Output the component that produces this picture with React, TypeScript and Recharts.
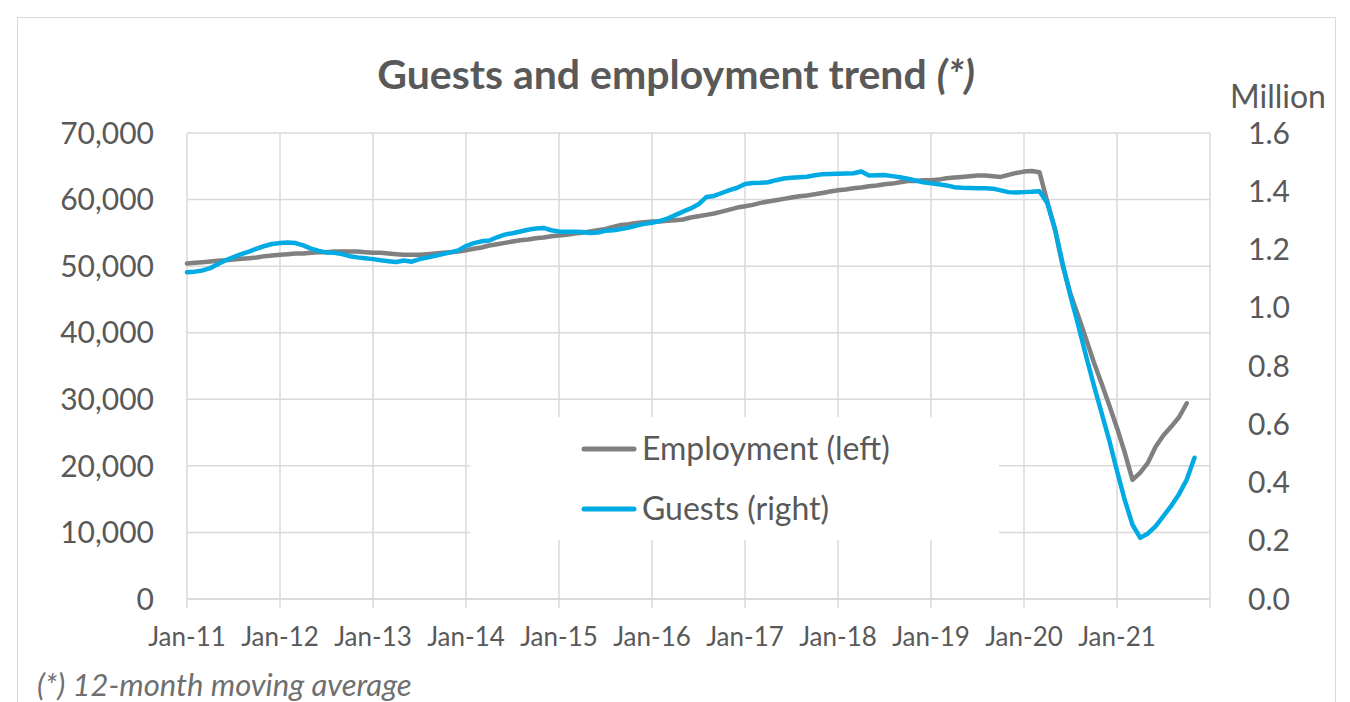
import React from "react";
import {
  ComposedChart,
  Line,
  XAxis,
  YAxis,
  CartesianGrid,
  Legend,
} from "recharts";

// months counted from Jan-11 (0) ; one row per year
const employment = [
  50400, 50500, 50600, 50700, 50800, 50900, 51000, 51100, 51200, 51300, 51500, 51600, // 2011
  51700, 51800, 51900, 51900, 52000, 52100, 52100, 52200, 52200, 52200, 52200, 52100, // 2012
  52000, 52000, 51900, 51800, 51700, 51700, 51700, 51800, 51900, 52000, 52100, 52200, // 2013
  52400, 52600, 52800, 53100, 53300, 53500, 53700, 53900, 54000, 54200, 54300, 54500, // 2014
  54600, 54700, 54900, 55000, 55200, 55400, 55600, 55900, 56200, 56300, 56500, 56600, // 2015
  56700, 56700, 56800, 56900, 57000, 57300, 57500, 57700, 57900, 58200, 58500, 58800, // 2016
  59000, 59200, 59500, 59700, 59900, 60100, 60300, 60500, 60600, 60800, 61000, 61200, // 2017
  61400, 61500, 61700, 61800, 62000, 62100, 62300, 62400, 62600, 62800, 62800, 62900, // 2018
  62900, 63000, 63200, 63300, 63400, 63500, 63600, 63600, 63500, 63400, 63700, 64000, // 2019
  64200, 64300, 64100, 59700, 55500, 50000, 45800, 42500, 39100, 35600, 32400, 29100, // 2020
  25700, 22000, 17900, 19000, 20500, 22900, 24600, 25900, 27300, 29400, // 2021
];

// million guests
const guests = [
  1.122, 1.124, 1.128, 1.136, 1.15, 1.163, 1.174, 1.184, 1.193, 1.203, 1.212, 1.219, // 2011
  1.222, 1.224, 1.222, 1.214, 1.203, 1.195, 1.19, 1.189, 1.184, 1.177, 1.173, 1.17, // 2012
  1.167, 1.163, 1.16, 1.157, 1.162, 1.158, 1.167, 1.172, 1.178, 1.184, 1.19, 1.197, // 2013
  1.212, 1.222, 1.228, 1.231, 1.242, 1.251, 1.256, 1.262, 1.268, 1.272, 1.274, 1.266, // 2014
  1.262, 1.261, 1.261, 1.26, 1.257, 1.258, 1.264, 1.266, 1.27, 1.275, 1.282, 1.288, // 2015
  1.292, 1.298, 1.306, 1.318, 1.33, 1.341, 1.355, 1.38, 1.384, 1.394, 1.404, 1.412, // 2016
  1.425, 1.428, 1.429, 1.431, 1.438, 1.444, 1.446, 1.448, 1.45, 1.455, 1.458, 1.459, // 2017
  1.46, 1.461, 1.462, 1.468, 1.454, 1.455, 1.456, 1.452, 1.448, 1.443, 1.437, 1.431, // 2018
  1.427, 1.424, 1.42, 1.414, 1.412, 1.411, 1.41, 1.41, 1.409, 1.403, 1.397, 1.396, // 2019
  1.397, 1.398, 1.4, 1.36, 1.27, 1.15, 1.04, 0.94, 0.835, 0.735, 0.64, 0.545, // 2020
  0.44, 0.34, 0.255, 0.21, 0.225, 0.25, 0.285, 0.32, 0.36, 0.41, 0.485, // 2021
];

const yearLabels = ["Jan-11", "Jan-12", "Jan-13", "Jan-14", "Jan-15", "Jan-16", "Jan-17", "Jan-18", "Jan-19", "Jan-20", "Jan-21", ""];
const leftTicks = [0, 10000, 20000, 30000, 40000, 50000, 60000, 70000];
const rightTicks = [0, 0.2, 0.4, 0.6, 0.8, 1.0, 1.2, 1.4, 1.6];

const data = guests.map((g, i) => ({
  m: i,
  employment: employment[i],
  guests: g,
}));

const xTicks = yearLabels.map((_, i) => i * 12);

const TEXT = "#595959";
const GRID = "#d9d9d9";
const FONT = "Lato, 'Open Sans', sans-serif";

function LegendBox({ payload }: any) {
  const items = payload || [];
  return (
    <svg width={529} height={123} style={{ display: "block" }}>
      {items.map((p: any, i: number) => {
        const cy = 32 + i * 60;
        return (
          <g key={p.value}>
            <line x1={114} x2={164} y1={cy} y2={cy} stroke={p.color} strokeWidth={5} strokeLinecap="round" />
            <text x={172} y={cy + 11} fill={TEXT} fontSize={32} fontFamily={FONT}>
              {p.value}
            </text>
          </g>
        );
      })}
    </svg>
  );
}

export default function App() {
  return (
    <div style={{ position: "absolute", left: 0, top: 0, width: 1350, height: 702, background: "#fff", overflow: "hidden", fontFamily: FONT }}>
      <div style={{ position: "absolute", left: 17, top: 17, width: 1317, height: 700, border: `1.5px solid ${GRID}` }} />
      <div style={{ position: "absolute", left: 0, top: 53, width: 1352, textAlign: "center", fontSize: 41, lineHeight: "41px", fontWeight: 700, color: TEXT }}>
        Guests and employment trend <i>(*)</i>
      </div>
      <div style={{ position: "absolute", left: 1230, top: 80, fontSize: 32, lineHeight: "32px", color: TEXT }}>Million</div>
      <div style={{ position: "absolute", left: 37, top: 669, fontSize: 31, lineHeight: "31px", fontStyle: "italic", color: "#6f6f6f" }}>
        (*) 12-month moving average
      </div>
      <ComposedChart width={1350} height={702} data={data} margin={{ top: 133, right: 0, bottom: 53, left: 0 }} style={{ position: "absolute", left: 0, top: 0 }}>
        <CartesianGrid yAxisId="left" stroke={GRID} strokeWidth={1.5} />
        <XAxis
          type="number"
          dataKey="m"
          domain={[0, 132]}
          ticks={xTicks}
          interval={0}
          tickFormatter={(v: number) => yearLabels[v / 12]}
          height={50}
          axisLine={{ stroke: GRID, strokeWidth: 1.5 }}
          tickLine={{ stroke: GRID, strokeWidth: 1.5 }}
          tickSize={9}
          tickMargin={20}
          tick={{ fill: TEXT, fontSize: 26, fontFamily: FONT }}
        />
        <YAxis
          yAxisId="left"
          orientation="left"
          width={187}
          domain={[0, 70000]}
          ticks={leftTicks}
          interval={0}
          tickFormatter={(v: number) => v.toLocaleString("en-US")}
          axisLine={false}
          tickLine={false}
          tickSize={0}
          tickMargin={33}
          tick={{ fill: TEXT, fontSize: 30, fontFamily: FONT }}
        />
        <YAxis
          yAxisId="right"
          orientation="right"
          width={140}
          domain={[0, 1.6]}
          ticks={rightTicks}
          interval={0}
          tickFormatter={(v: number) => v.toFixed(1)}
          axisLine={false}
          tickLine={false}
          tickSize={0}
          tickMargin={38}
          tick={{ fill: TEXT, fontSize: 30, fontFamily: FONT, textAnchor: "start" }}
        />
        <Legend
          layout="vertical"
          align="center"
          verticalAlign="middle"
          content={<LegendBox />}
          wrapperStyle={{ position: "absolute", left: 470, top: 417, width: 529, height: 123, background: "#fff" }}
        />
        <Line
          yAxisId="left"
          type="linear"
          dataKey="employment"
          name="Employment (left)"
          stroke="#808080"
          strokeWidth={4.5}
          strokeLinejoin="round"
          strokeLinecap="round"
          dot={false}
          isAnimationActive={false}
        />
        <Line
          yAxisId="right"
          type="linear"
          dataKey="guests"
          name="Guests (right)"
          stroke="#00abe4"
          strokeWidth={4.5}
          strokeLinejoin="round"
          strokeLinecap="round"
          dot={false}
          isAnimationActive={false}
        />
      </ComposedChart>
    </div>
  );
}
